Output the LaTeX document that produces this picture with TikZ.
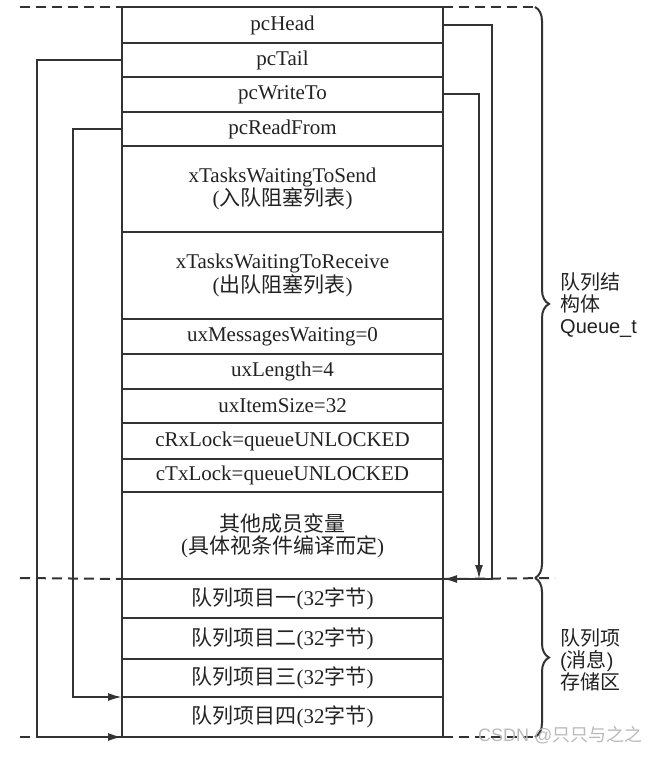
\documentclass[tikz,border=0pt]{standalone}
\usepackage{fontspec}
\setmainfont{Liberation Serif}
\newfontfamily\cjk{Noto Sans CJK SC}
\newfontfamily\labelsans{Liberation Sans}
\usetikzlibrary{positioning,arrows.meta,decorations.pathreplacing}
\definecolor{col_333333}{RGB}{51,51,51}
\definecolor{col_222222}{RGB}{34,34,34}
\definecolor{col_b9b9b9}{RGB}{185,185,185}
\tikzset{
  qfield/.style={draw=col_333333, line width=2pt, minimum width=321pt, minimum height=#1,
    inner sep=0pt, outer sep=0pt, align=center, text=col_222222, font=\fontsize{21}{22}\selectfont},
  qptr/.style={draw=col_333333, line width=2pt, -{Latex[length=14pt,width=8pt]}},
  qdash/.style={draw=col_333333, line width=2pt, dash pattern=on 10pt off 6pt},
  qbrace/.style={draw=col_333333, line width=2pt, decorate, decoration={brace,amplitude=14pt,aspect=#1}},
  qlabel/.style={align=left, inner sep=0pt, text=col_222222, font=\labelsans\fontsize{20}{22}\selectfont},
}

\begin{document}
\begin{tikzpicture}[x=1pt,y=-1pt]
\useasboundingbox (0,0) rectangle (662,757);
%% queue structure Queue_t
\node[qfield=36pt, anchor=north] (head) at (282.5,7) {pcHead};
\node[qfield=34pt, below=0pt of head] (tail) {pcTail};
\node[qfield=35pt, below=0pt of tail] (write) {pcWriteTo};
\node[qfield=34pt, below=0pt of write] (read) {pcReadFrom};
\node[qfield=86pt, below=0pt of read] (sendlist) {xTasksWaitingToSend\\({\cjk 入队阻塞列表})};
\node[qfield=87pt, below=0pt of sendlist] (recvlist) {xTasksWaitingToReceive\\({\cjk 出队阻塞列表})};
\node[qfield=35pt, below=0pt of recvlist] (msgs) {uxMessagesWaiting=0};
\node[qfield=35pt, below=0pt of msgs] (length) {uxLength=4};
\node[qfield=34pt, below=0pt of length] (itemsize) {uxItemSize=32};
\node[qfield=36pt, below=0pt of itemsize] (rxlock) {cRxLock=queueUNLOCKED};
\node[qfield=33pt, below=0pt of rxlock] (txlock) {cTxLock=queueUNLOCKED};
\node[qfield=87pt, below=0pt of txlock] (other) {{\cjk 其他成员变量}\\({\cjk 具体视条件编译而定})};
%% message storage area
\node[qfield=39pt, below=0pt of other] (item1) {{\cjk 队列项目一}(32{\cjk 字节})};
\node[qfield=41pt, below=0pt of item1] (item2) {{\cjk 队列项目二}(32{\cjk 字节})};
\node[qfield=38pt, below=0pt of item2] (item3) {{\cjk 队列项目三}(32{\cjk 字节})};
\node[qfield=40pt, below=0pt of item3] (item4) {{\cjk 队列项目四}(32{\cjk 字节})};

%% pointers
\draw[qptr] (head.east) -- ++(49,0) |- (item1.north east);
\draw[qptr] (write.east) -- ++(36,0) coordinate (wbend) -- (wbend |- item1.north);
\draw[qptr] (tail.west) -- ++(-85,0) |- (item4.south west);
\draw[qptr] (read.west) -- ++(-49,0) |- (item4.north west);

%% dashed limits and braces
\coordinate (dl1) at (20,7);
\coordinate (dl2) at (20,578);
\coordinate (dl3) at (20,737);
\coordinate (br1) at (535,7);
\coordinate (br2) at (535,578);
\coordinate (br3) at (535,737);
\coordinate (dr2) at (555,578);
\draw[qdash] (dl1) -- (head.north west);
\draw[qdash] (head.north east) -- (br1);
\draw[qdash] (dl2) -- (item1.north west);
\draw[qdash] (item1.north east) -- (dr2);
\draw[qdash] (dl3) -- (item4.south west);
\draw[qdash] (item4.south east) -- (br3);
\draw[qbrace=0.52] (br1) -- (br2);
\draw[qbrace=0.5] (br2) -- (br3);

\node[qlabel, anchor=west] (structlbl) at (560,305) {{\cjk 队列结}\\{\cjk 构体}\\Queue\_t};
\node[qlabel, anchor=west] (storelbl) at (560,660) {{\cjk 队列项}\\({\cjk 消息})\\{\cjk 存储区}};

\node[anchor=west, inner sep=0pt, text=col_b9b9b9, font=\labelsans\fontsize{18}{18}\selectfont] (mark) at (478,735) {CSDN @{\cjk 只只与之之}};
\end{tikzpicture}
\end{document}
